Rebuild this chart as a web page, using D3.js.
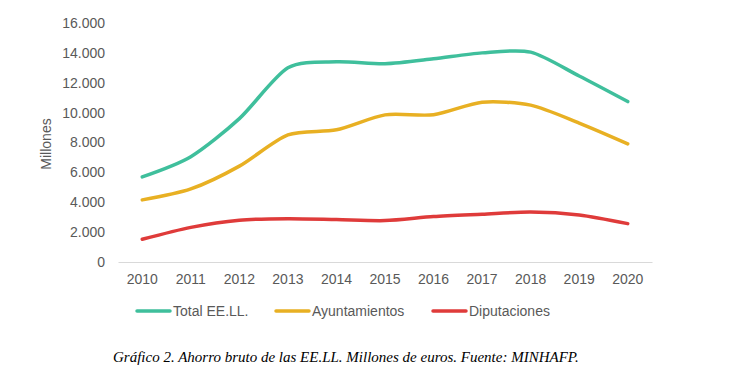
<!DOCTYPE html>
<html><head><meta charset="utf-8">
<script src="https://cdn.jsdelivr.net/npm/d3@7"></script>
<style>body{margin:0;background:#fff}svg{display:block}</style>
</head><body>
<svg id="c" width="738" height="392"></svg>
<script>
const years = ["2010","2011","2012","2013","2014","2015","2016","2017","2018","2019","2020"];
const totalEELL = [5700, 7050, 9600, 13000, 13400, 13270, 13600, 14000, 14050, 12450, 10740];
const ayuntamientos = [4160, 4890, 6420, 8510, 8850, 9850, 9860, 10700, 10500, 9300, 7910];
const diputaciones = [1520, 2320, 2800, 2900, 2840, 2770, 3040, 3200, 3350, 3150, 2570];
const yTicks = [0, 2000, 4000, 6000, 8000, 10000, 12000, 14000, 16000];
const seriesNames = ["Total EE.LL.", "Ayuntamientos", "Diputaciones"];
const seriesColors = ["#3fbf9c", "#e8b023", "#df3b3a"];
const caption = "Gráfico 2. Ahorro bruto de las EE.LL. Millones de euros. Fuente: MINHAFP.";

const series = [totalEELL, ayuntamientos, diputaciones];
const svg = d3.select("#c");
const x = d3.scaleBand().domain(years).range([118, 652]);
const y = d3.scaleLinear().domain([0, 16000]).range([262, 23]);
const fmt = v => d3.format(",")(v).replace(/,/g, ".");
const font = "'Liberation Sans', Arial, sans-serif";

// y axis labels
const ya = svg.append("g").attr("transform", "translate(105,0)")
  .call(d3.axisLeft(y).tickValues(yTicks).tickFormat(fmt).tickSize(0).tickPadding(0));
ya.select(".domain").remove();
ya.selectAll("text").attr("font-family", font).attr("font-size", 14).attr("fill", "#595959");

// x axis
const xa = svg.append("g").attr("transform", "translate(0,262)")
  .call(d3.axisBottom(x).tickSize(0).tickPadding(12));
xa.select(".domain").attr("stroke", "#d9d9d9").attr("stroke-width", 1);
xa.selectAll("text").attr("font-family", font).attr("font-size", 14).attr("fill", "#595959");

// y title
svg.append("text").attr("transform", "translate(51,144) rotate(-90)")
  .attr("text-anchor", "middle").attr("font-family", font).attr("font-size", 14)
  .attr("fill", "#595959").text("Millones");

const line = d3.line()
  .x((d, i) => x(years[i]) + x.bandwidth() / 2)
  .y(d => y(d))
  .curve(d3.curveCardinal.tension(0.2));

series.forEach((s, k) => {
  svg.append("path").datum(s).attr("d", line).attr("fill", "none")
    .attr("stroke", seriesColors[k]).attr("stroke-width", 3.5)
    .attr("stroke-linecap", "round").attr("stroke-linejoin", "round");
});

// legend
const legX = [137, 276, 433];
seriesNames.forEach((n, k) => {
  const g = svg.append("g").attr("transform", `translate(${legX[k]},311)`);
  g.append("line").attr("x1", 0).attr("x2", 33).attr("y1", 0).attr("y2", 0)
    .attr("stroke", seriesColors[k]).attr("stroke-width", 3.5).attr("stroke-linecap", "round");
  g.append("text").attr("x", 36).attr("dy", "0.35em").attr("font-family", font)
    .attr("font-size", 14).attr("fill", "#595959").text(n);
});

// caption
svg.append("text").attr("x", 113).attr("y", 362)
  .attr("font-family", "'Liberation Serif', 'Times New Roman', serif")
  .attr("font-style", "italic").attr("font-size", 15).attr("fill", "#000").text(caption);
</script>
</body></html>
